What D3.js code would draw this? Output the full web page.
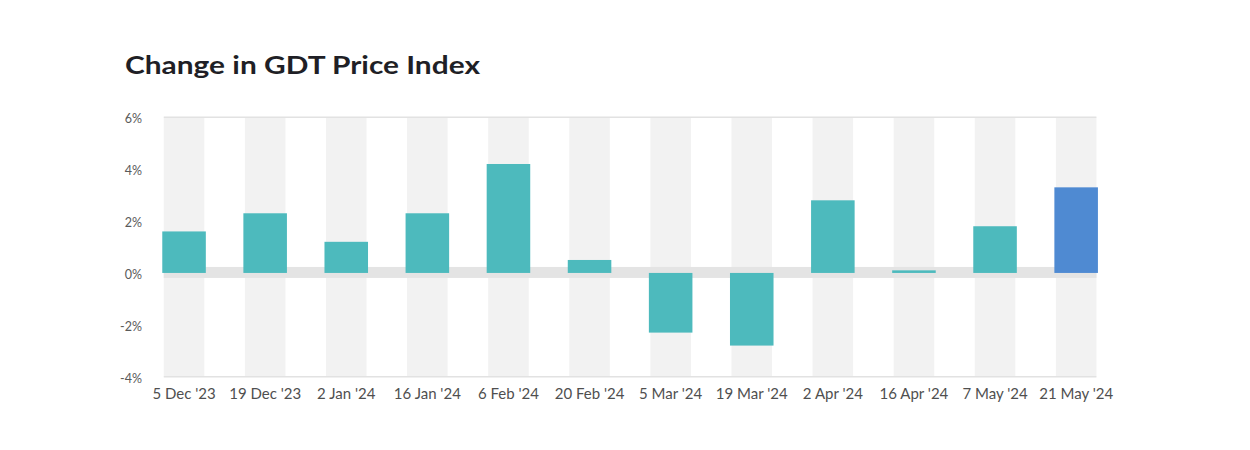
<!DOCTYPE html>
<html>
<head>
<meta charset="utf-8">
<script src="https://cdn.jsdelivr.net/npm/d3@7"></script>
<style>
  body { margin: 0; background: #fff; }
  svg { display: block; font-family: Lato, "Open Sans", sans-serif; }
</style>
</head>
<body>
<script>
// GDT auction dates and change in price index (%)
var dates = ["5 Dec '23", "19 Dec '23", "2 Jan '24", "16 Jan '24", "6 Feb '24", "20 Feb '24",
             "5 Mar '24", "19 Mar '24", "2 Apr '24", "16 Apr '24", "7 May '24", "21 May '24"];
var changes = [1.6, 2.3, 1.2, 2.3, 4.2, 0.5, -2.3, -2.8, 2.8, 0.1, 1.8, 3.3];
var yTicks = [-4, -2, 0, 2, 4, 6];

var data = dates.map(function(d, i) { return {date: d, value: changes[i]}; });
var latest = dates[dates.length - 1];

var svg = d3.select("body").append("svg").attr("width", 1250).attr("height", 450);

// the title in the reference is stretched a little wider than plain Lato
svg.append("text")
    .attr("x", 125).attr("y", 74)
    .attr("font-size", 25.5).attr("font-weight", 700)
    .attr("fill", "#1f1f26")
    .attr("textLength", 355).attr("lengthAdjust", "spacingAndGlyphs")
    .text("Change in GDT Price Index");

var x = d3.scaleBand().domain(dates).range([143.5, 1116.7])
            .paddingInner(0.5).paddingOuter(0.25);
var y = d3.scaleLinear().domain([-4, 6]).range([376.7, 117.3]);

var left = x(dates[0]), right = x(latest) + x.bandwidth();

// background columns behind each bar
svg.append("g").selectAll("rect")
    .data(dates)
    .enter().append("rect")
        .attr("x", function(d) { return x(d); })
        .attr("y", y(6))
        .attr("width", x.bandwidth())
        .attr("height", y(-4) - y(6))
        .attr("fill", "#f2f2f2");

// top and bottom lines
svg.append("g").selectAll("line")
    .data([6, -4])
    .enter().append("line")
        .attr("x1", left).attr("x2", right)
        .attr("y1", function(d) { return y(d); })
        .attr("y2", function(d) { return y(d); })
        .attr("stroke", "#e2e2e2").attr("stroke-width", 1.5);

// thick zero band
svg.append("rect")
    .attr("x", left).attr("width", right - left)
    .attr("y", y(0) - 6).attr("height", 11)
    .attr("fill", "#e4e4e4");

// bars, slightly wider than the background columns
svg.append("g").selectAll("rect")
    .data(data)
    .enter().append("rect")
        .attr("x", function(d) { return x(d.date) - 1.5; })
        .attr("y", function(d) { return y(Math.max(0, d.value)); })
        .attr("width", x.bandwidth() + 3)
        .attr("height", function(d) { return Math.abs(y(d.value) - y(0)); })
        .attr("fill", function(d) { return d.date === latest ? "#4f8ad2" : "#4dbabd"; });

var yAxis = svg.append("g")
    .attr("transform", "translate(" + 142 + ",1.5)")
    .call(d3.axisLeft(y).tickValues(yTicks).tickSize(0).tickPadding(0)
            .tickFormat(function(d) { return d + "%"; }));
yAxis.select(".domain").remove();
yAxis.selectAll("text").attr("font-size", 12.5).attr("fill", "#5a5a5a")
    .attr("font-family", "Lato, sans-serif");

var xAxis = svg.append("g")
    .attr("transform", "translate(0," + y(-4) + ")")
    .call(d3.axisBottom(x).tickSize(0));
xAxis.select(".domain").remove();
xAxis.selectAll("text").attr("y", 22).attr("dy", 0)
    .attr("font-size", 15).attr("fill", "#4f4f4f")
    .attr("font-family", "Lato, sans-serif");
</script>
</body>
</html>
